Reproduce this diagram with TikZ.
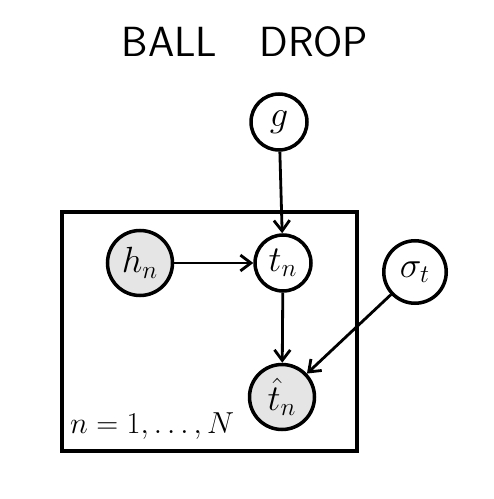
\documentclass[tikz,border=0pt]{standalone}
\usepackage{amsmath,amssymb}
\usepackage{tikz}
\usetikzlibrary{arrows.meta,positioning,calc,fit}

\begin{document}
\begin{tikzpicture}[
    x=0.02cm, y=-0.02cm,
    var/.style={draw, circle, line width=2pt, minimum size=1.12cm, inner sep=0pt, font=\fontsize{20}{24}\selectfont},
    obs/.style={var, fill=black!10},
    arr/.style={-{Straight Barb[length=6pt, width=9pt]}, line width=1.6pt},
    plate/.style={draw, line width=1.8pt}
]
\useasboundingbox (0,0) rectangle (493,499);

\node[font=\fontsize{24}{28}\selectfont\sffamily] (title) at (245,42) {BALL\quad DROP};

\node[var] (g) at (279,122) {$g$};
\node[obs, minimum size=1.3cm] (h) at (140,263) {$h_n$};
\node[var] (t) at (283,263) {$t_n$};
\node[var, minimum size=1.25cm] (sig) at (415,272) {$\sigma_t$};
\node[obs, minimum size=1.3cm] (that) at (282,397) {$\hat{t}_n$};

\coordinate (pnw) at (62,212);
\coordinate (pse) at (357,451);
\draw[plate] (pnw) rectangle (pse);
\node[font=\fontsize{17}{20}\selectfont, anchor=south west] (nlbl) at (64,446) {$n=1,\ldots,N$};

\draw[arr] (g) -- (t);
\draw[arr] (h) -- (t);
\draw[arr] (t) -- (that);
\draw[arr] (sig) -- (that);
\end{tikzpicture}
\end{document}
